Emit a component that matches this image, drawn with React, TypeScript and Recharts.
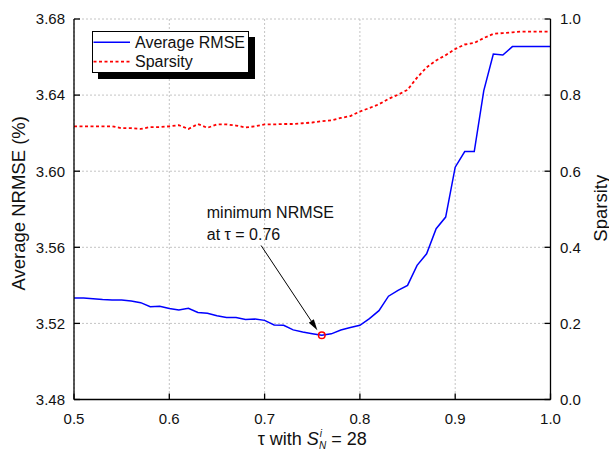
import {
  CartesianGrid,
  ComposedChart,
  Legend,
  Line,
  ReferenceDot,
  XAxis,
  YAxis,
} from 'recharts'

const tau = [
  0.5, 0.51, 0.52, 0.53, 0.54, 0.55, 0.56, 0.57, 0.58, 0.59,
  0.6, 0.61, 0.62, 0.63, 0.64, 0.65, 0.66, 0.67, 0.68, 0.69,
  0.7, 0.71, 0.72, 0.73, 0.74, 0.75, 0.76, 0.77, 0.78, 0.79,
  0.8, 0.81, 0.82, 0.83, 0.84, 0.85, 0.86, 0.87, 0.88, 0.89,
  0.9, 0.91, 0.92, 0.93, 0.94, 0.95, 0.96, 0.97, 0.98, 0.99, 1.0,
]

const avgRmse = [
  3.5334, 3.5334, 3.533, 3.5325, 3.5323, 3.5323, 3.5318, 3.5309, 3.5288, 3.529,
  3.5278, 3.5271, 3.5279, 3.5257, 3.5253, 3.524, 3.5231, 3.5231, 3.5221, 3.5223,
  3.5216, 3.5192, 3.519, 3.5166, 3.5155, 3.5146, 3.5138, 3.5145, 3.5165, 3.5178,
  3.519, 3.5225, 3.5267, 3.5343, 3.5374, 3.54, 3.5505, 3.5566, 3.5698, 3.5759,
  3.6021, 3.6103, 3.6103, 3.6424, 3.6616, 3.6611, 3.6655, 3.6655, 3.6655, 3.6655, 3.6655,
]

const sparsity = [
  0.718, 0.718, 0.718, 0.718, 0.718, 0.713, 0.713, 0.711, 0.716, 0.716,
  0.718, 0.721, 0.711, 0.724, 0.714, 0.723, 0.723, 0.72, 0.715, 0.718,
  0.723, 0.723, 0.724, 0.724, 0.726, 0.728, 0.7315, 0.7336, 0.74, 0.745,
  0.757, 0.766, 0.776, 0.79, 0.801, 0.814, 0.846, 0.873, 0.891, 0.905,
  0.921, 0.933, 0.937, 0.95, 0.961, 0.963, 0.965, 0.967, 0.967, 0.967, 0.967,
]

const xTicks = [0.5, 0.6, 0.7, 0.8, 0.9, 1.0]
const leftTicks = [3.48, 3.52, 3.56, 3.6, 3.64, 3.68]
const rightTicks = [0, 0.2, 0.4, 0.6, 0.8, 1.0]

const minTau = 0.76
const minRmse = 3.5138

const font = '"Liberation Sans", Arial, Helvetica, sans-serif'
const tickStyle = { fontSize: 15, fill: '#111', fontFamily: font }

const data = tau.map((t, i) => ({ tau: t, rmse: avgRmse[i], sparsity: sparsity[i] }))

function LegendBox({ payload }: any) {
  const items = payload ?? []
  return (
    <svg width={166} height={50} style={{ display: 'block' }}>
      <rect x={6} y={6} width={157} height={42} fill="#000" />
      <rect x={0.5} y={0.5} width={156} height={41} fill="#fff" stroke="#000" strokeWidth={1} />
      {items.map((it: any, i: number) => {
        const y = 11.3 + i * 19.4
        return (
          <g key={it.value}>
            <line
              x1={1.5}
              x2={38}
              y1={y}
              y2={y}
              stroke={it.color}
              strokeWidth={it.dataKey === 'sparsity' ? 1.8 : 1.5}
              strokeDasharray={it.dataKey === 'sparsity' ? '3 2.5' : undefined}
            />
            <text x={43} y={y + 5.6} fontSize={16} fontFamily={font} fill="#111">
              {it.value}
            </text>
          </g>
        )
      })}
    </svg>
  )
}

function MinMarker({ cx, cy }: any) {
  // arrow from the note down to the minimum point
  const sx = cx - 60.7
  const sy = cy - 89.7
  const tx = cx - 4.4
  const ty = cy - 5
  const dx = tx - sx
  const dy = ty - sy
  const len = Math.sqrt(dx * dx + dy * dy)
  const ux = dx / len
  const uy = dy / len
  const bx = tx - 11 * ux
  const by = ty - 11 * uy
  const nx = -uy * 3
  const ny = ux * 3
  return (
    <g>
      <text fontSize={16} fontFamily={font} fill="#111">
        <tspan x={cx - 115} y={cy - 117}>minimum NRMSE</tspan>
        <tspan x={cx - 115} y={cy - 95}>at τ = 0.76</tspan>
      </text>
      <line x1={sx} y1={sy} x2={bx} y2={by} stroke="#000" strokeWidth={1} />
      <polygon points={`${tx},${ty} ${bx + nx},${by + ny} ${bx - nx},${by - ny}`} fill="#000" />
      <circle cx={cx} cy={cy} r={3.3} fill="none" stroke="#ff0000" strokeWidth={1.5} />
    </g>
  )
}

export default function App() {
  return (
    <div style={{ position: 'absolute', left: 0, top: 0, width: 609, height: 450, background: '#fff' }}>
      <ComposedChart
        width={609}
        height={450}
        data={data}
        margin={{ top: 19, right: 0, bottom: 20.5, left: 0 }}
      >
        <CartesianGrid
          yAxisId="left"
          stroke="#c4c4c4"
          strokeDasharray="2 2"
          strokeWidth={1}
        />
        <XAxis
          dataKey="tau"
          type="number"
          domain={[0.5, 1]}
          ticks={xTicks}
          tickFormatter={(v: number) => v.toFixed(1)}
          height={30}
          axisLine={{ stroke: '#000', strokeWidth: 1.3 }}
          tickLine={{ stroke: '#000', strokeWidth: 1.3 }}
          tickSize={-6}
          tickMargin={19.5}
          tick={tickStyle}
          interval={0}
          label={{
            content: ({ viewBox }: any) => (
              <text
                x={viewBox.x + viewBox.width / 2}
                y={viewBox.y + 45.5}
                textAnchor="middle"
                fontSize={18}
                fontFamily={font}
                fill="#111"
              >
                τ with{' '}
                <tspan fontStyle="italic">S</tspan>
                <tspan fontStyle="italic" fontSize={10} dx={1} dy={-8}>i</tspan>
                <tspan fontStyle="italic" fontSize={10} dx={-3} dy={12}>N</tspan>
                <tspan dy={-4}> = 28</tspan>
              </text>
            ),
          }}
        />
        <XAxis
          xAxisId="top"
          orientation="top"
          dataKey="tau"
          type="number"
          domain={[0.5, 1]}
          ticks={xTicks}
          height={0}
          axisLine={{ stroke: '#000', strokeWidth: 1.3 }}
          tickLine={{ stroke: '#000', strokeWidth: 1.3 }}
          tickSize={-6}
          tick={() => <g />}
        />
        <YAxis
          yAxisId="left"
          domain={[3.48, 3.68]}
          ticks={leftTicks}
          tickFormatter={(v: number) => v.toFixed(2)}
          width={74}
          axisLine={{ stroke: '#000', strokeWidth: 1.3 }}
          tickLine={{ stroke: '#000', strokeWidth: 1.3 }}
          tickSize={-6}
          tickMargin={15}
          tick={tickStyle}
          interval={0}
          label={{
            content: ({ viewBox }: any) => {
              const x = viewBox.x + 18
              const y = viewBox.y + viewBox.height / 2 - 6
              return (
                <text
                  x={x}
                  y={y}
                  transform={`rotate(-90 ${x} ${y})`}
                  textAnchor="middle"
                  dominantBaseline="central"
                  fontSize={18.5}
                  fontFamily={font}
                  fill="#111"
                >
                  Average NRMSE (%)
                </text>
              )
            },
          }}
        />
        <YAxis
          yAxisId="right"
          orientation="right"
          domain={[0, 1]}
          ticks={rightTicks}
          tickFormatter={(v: number) => v.toFixed(1)}
          width={58.5}
          axisLine={{ stroke: '#000', strokeWidth: 1.3 }}
          tickLine={{ stroke: '#000', strokeWidth: 1.3 }}
          tickSize={-6}
          tickMargin={15.5}
          tick={tickStyle}
          interval={0}
          label={{
            content: ({ viewBox }: any) => {
              const x = viewBox.x + 49.5
              const y = viewBox.y + viewBox.height / 2 - 1
              return (
                <text
                  x={x}
                  y={y}
                  transform={`rotate(-90 ${x} ${y})`}
                  textAnchor="middle"
                  dominantBaseline="central"
                  fontSize={18.5}
                  fontFamily={font}
                  fill="#111"
                >
                  Sparsity
                </text>
              )
            },
          }}
        />
        <Legend
          layout="vertical"
          align="center"
          verticalAlign="middle"
          wrapperStyle={{ top: 31, left: 92, width: 166, height: 50 }}
          content={(props: any) => <LegendBox payload={props.payload} />}
        />
        <Line
          yAxisId="left"
          type="linear"
          dataKey="rmse"
          name="Average RMSE"
          stroke="#0000ff"
          strokeWidth={1.5}
          dot={false}
          activeDot={false}
          isAnimationActive={false}
        />
        <Line
          yAxisId="right"
          type="linear"
          dataKey="sparsity"
          name="Sparsity"
          stroke="#ff0000"
          strokeWidth={1.8}
          strokeDasharray="3 2.5"
          dot={false}
          activeDot={false}
          isAnimationActive={false}
        />
        <ReferenceDot
          yAxisId="left"
          x={minTau}
          y={minRmse}
          r={3.3}
          shape={(p: any) => <MinMarker {...p} />}
        />
      </ComposedChart>
    </div>
  )
}
